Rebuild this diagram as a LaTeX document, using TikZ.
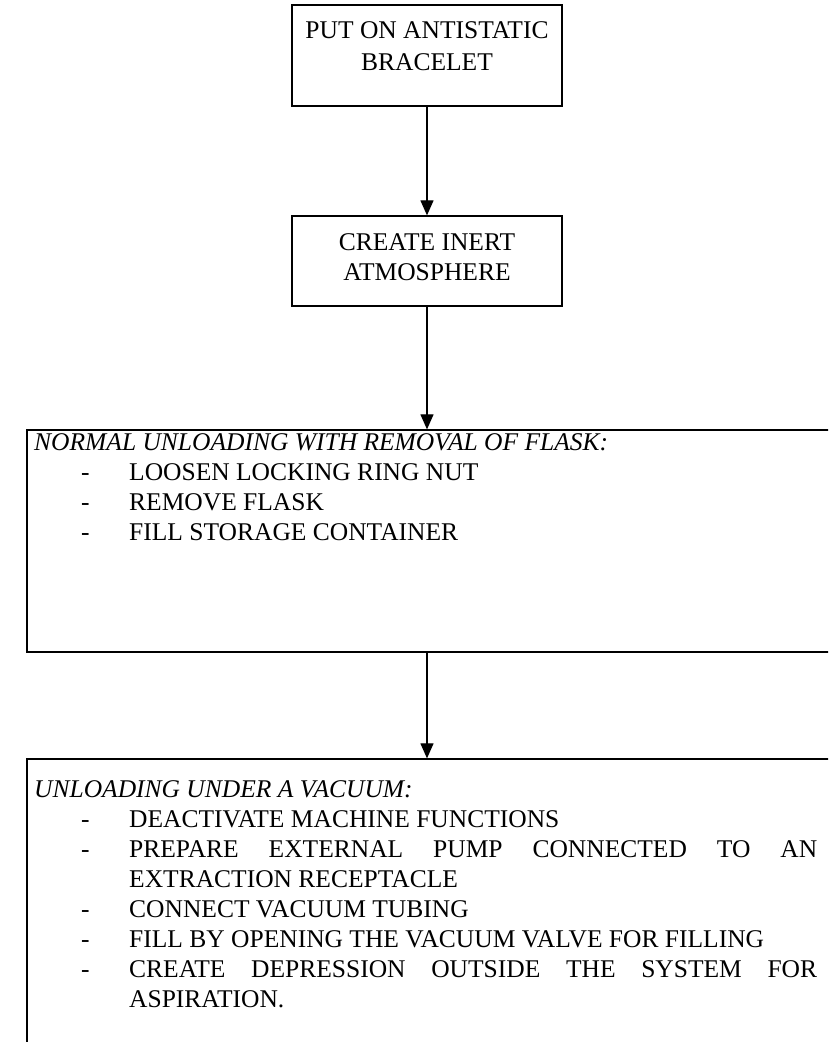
\documentclass[tikz,border=0pt]{standalone}
\usepackage{fontspec}
\setmainfont{Liberation Serif}
\usetikzlibrary{arrows.meta}
\begin{document}
\begin{tikzpicture}[x=1pt,y=-1pt,
  box/.style={draw, line width=1.3pt, inner sep=0pt},
  flow/.style={line width=1.2pt, -{Triangle[length=15pt,width=13pt]}},
  txt/.style={inner sep=0pt, font=\fontsize{25.5}{30}\selectfont},
  ]
\useasboundingbox (0,0) rectangle (828,1042);
\clip (0,0) rectangle (828,1042);

% step boxes (the two wide ones run past the right and bottom edges)
\node[box, minimum width=270pt, minimum height=101pt] (b1) at (427,55.5) {};
\node[box, minimum width=270pt, minimum height=90pt] (b2) at (427,261) {};
\node[box, minimum width=860pt, minimum height=222pt] (b3) at (457,541) {};
\node[box, minimum width=860pt, minimum height=340pt] (b4) at (457,929) {};

% connectors
\coordinate (ax) at (427,0);
\draw[flow] (b1.south) -- (b2.north);
\draw[flow] (b2.south) -- (ax |- b3.north);
\draw[flow] (ax |- b3.south) -- (ax |- b4.north);

% texts of the two small boxes
\node[txt, anchor=base] (t1a) at (427,38) {PUT ON ANTISTATIC};
\node[txt, anchor=base] (t1b) at (427,70) {BRACELET};
\node[txt, anchor=base] (t2a) at (427,250) {CREATE INERT};
\node[txt, anchor=base] (t2b) at (427,280) {ATMOSPHERE};

% normal unloading
\node[txt, anchor=base west] (t3h) at (34,450) {\itshape NORMAL UNLOADING WITH REMOVAL OF FLASK:};
\foreach \y/\s [count=\i] in {480/LOOSEN LOCKING RING NUT,
                               510/REMOVE FLASK,
                               540/FILL STORAGE CONTAINER}{
  \node[txt, anchor=base west] (d3\i) at (81,\y) {-};
  \node[txt, anchor=base west] (t3\i) at (129,\y) {\s};
}

% unloading under a vacuum
\node[txt, anchor=base west] (t4h) at (34,797) {\itshape UNLOADING UNDER A VACUUM:};
\foreach \y [count=\i] in {827,857,917,947,977}{
  \node[txt, anchor=base west] (d4\i) at (81,\y) {-};
}
\node[txt, anchor=base west] (t41) at (129,827) {DEACTIVATE MACHINE FUNCTIONS};
\node[txt, anchor=base west] (t42) at (129,857) {\makebox[688pt][s]{PREPARE EXTERNAL PUMP CONNECTED TO AN}};
\node[txt, anchor=base west] (t42b) at (129,887) {EXTRACTION RECEPTACLE};
\node[txt, anchor=base west] (t43) at (129,917) {CONNECT VACUUM TUBING};
\node[txt, anchor=base west] (t44) at (129,947) {FILL BY OPENING THE VACUUM VALVE FOR FILLING};
\node[txt, anchor=base west] (t45) at (129,977) {\makebox[688pt][s]{CREATE DEPRESSION OUTSIDE THE SYSTEM FOR}};
\node[txt, anchor=base west] (t45b) at (129,1007) {ASPIRATION.};
\end{tikzpicture}
\end{document}
